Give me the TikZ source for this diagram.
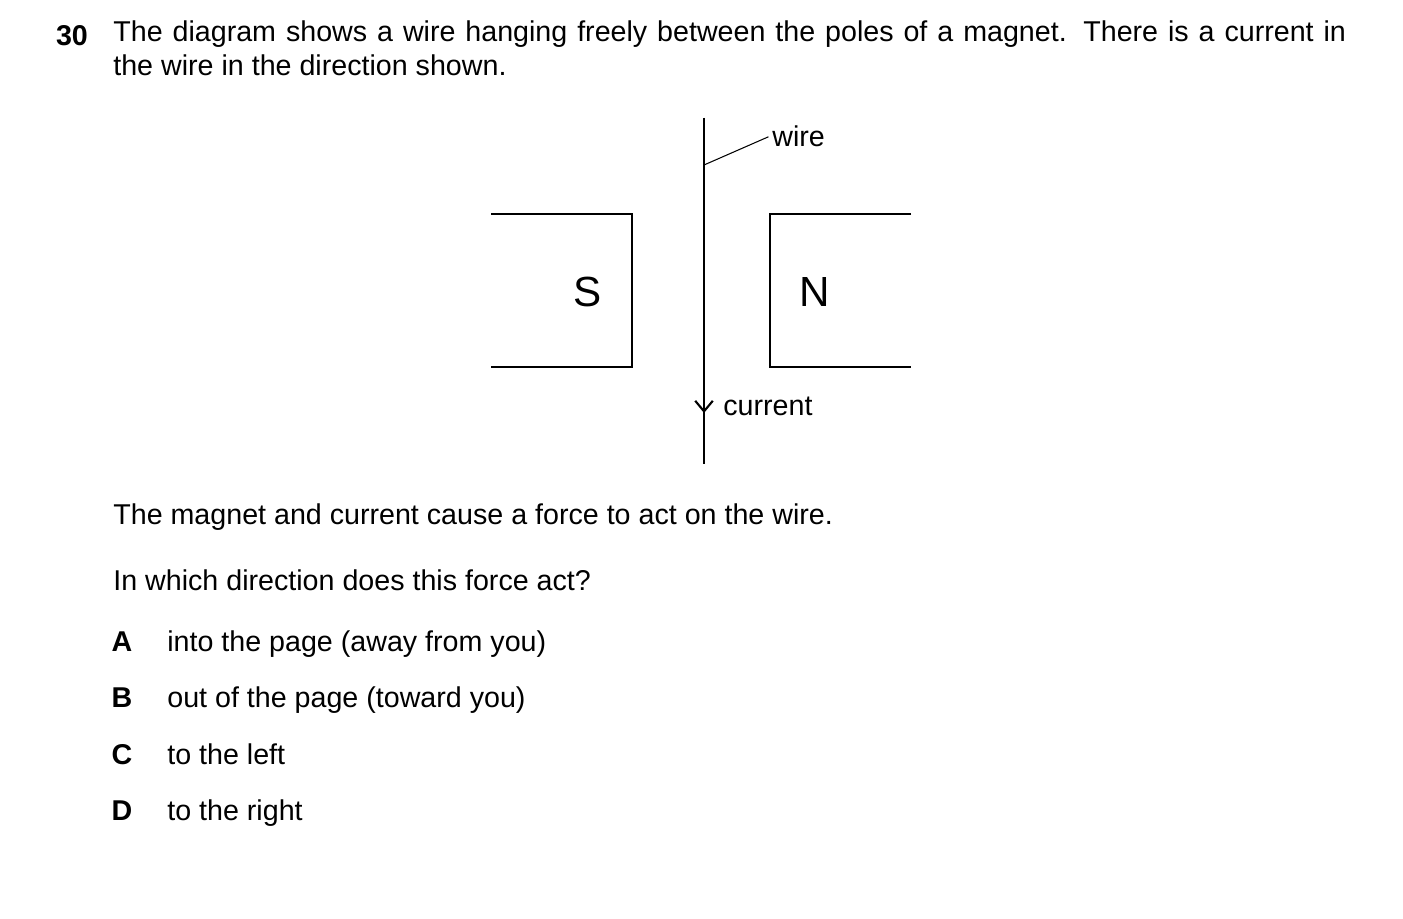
\documentclass[tikz,border=0pt]{standalone}
\usepackage{fontspec}
\setmainfont{Liberation Sans}
\usetikzlibrary{positioning,arrows.meta}

\begin{document}
\begin{tikzpicture}[x=0.02cm,y=-0.02cm,every node/.style={inner sep=0pt,font=\fontsize{16.3}{19.5}\selectfont},
  txt/.style={anchor=base west},key/.style={anchor=base,font=\fontsize{16.3}{19.5}\selectfont\bfseries},
  pole/.style={line width=1.2pt},lbl/.style={anchor=base west,font=\fontsize{16.3}{19.5}\selectfont}]

    \useasboundingbox (0,0) rectangle (1403,919);

    %question text
    \node[key] (num) at (72,46) {30};
    \node[anchor=north west,text width=24.66cm,align=justify] (q1) at (113,20) {The diagram shows a wire hanging freely between the poles of a magnet. There is a current in\linebreak the wire in the direction shown.};

    %wire and magnet
    \coordinate (top) at (704,118);
    \coordinate (bot) at (704,464);
    \coordinate (mid) at (704,413);
    \draw[line width=1.2pt] (top) -- (bot);
    \draw[line width=1.2pt,-{Straight Barb[length=6pt,width=10pt]}] (top) -- (mid);
    \coordinate (tap) at (704,165);
    \node[lbl] (wire) at (772,147) {wire};
    \draw[line width=0.6pt] (tap) -- ([xshift=-2pt]wire.west);
    \node[lbl] (cur) at (723,415) {current};

    \draw[pole] (491,214) -- (632,214) -- (632,367) -- (491,367);
    \draw[pole] (911,214) -- (770,214) -- (770,367) -- (911,367);
    \node[font=\fontsize{24}{28}\selectfont] (s) at (588,292) {S};
    \node[font=\fontsize{24}{28}\selectfont] (n) at (815,292) {N};

    %options
    \node[txt] (t1) at (113,524) {The magnet and current cause a force to act on the wire.};
    \node[txt] (t2) at (113,590) {In which direction does this force act?};
    \foreach \k/\y/\s in {A/651/into the page (away from you),B/707/out of the page (toward you),C/764/to the left,D/820/to the right} {
      \node[key] (k\k) at (122,\y) {\k};
      \node[txt] (o\k) at (167,\y) {\s};
    }

  \end{tikzpicture}
\end{document}
